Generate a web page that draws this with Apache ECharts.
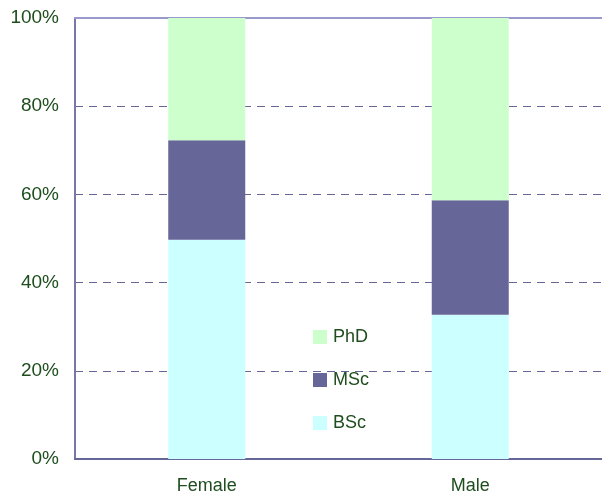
<!DOCTYPE html>
<html>
<head>
<meta charset="utf-8">
<script src="https://cdn.jsdelivr.net/npm/echarts@6/dist/echarts.min.js"></script>
<style>
    html, body { margin: 0; padding: 0; background: #ffffff; }
    #chart { width: 602px; height: 495px; }
</style>
</head>
<body>
<div id="chart"></div>
<script>
// categories and shares (percent of each group)
var groups = ['Female', 'Male'];
var bscShare = [49.7, 32.7];
var mscShare = [22.6, 26.0];
var phdShare = [27.7, 41.3];
var legendOrder = ['PhD', 'MSc', 'BSc'];

var textColor = '#1e4d1e';
var chart = echarts.init(document.getElementById('chart'));

function barSeries(name, data, color) {
    return {
        name: name,
        type: 'bar',
        stack: 'degree',
        barWidth: 77,
        itemStyle: { color: color },
        data: data
    };
}

chart.setOption({
    animation: false,
    textStyle: { fontFamily: 'Liberation Sans, Arial, sans-serif' },
    grid: { left: 75, right: 0, top: 18, bottom: 36 },
    legend: {
        data: legendOrder,
        orient: 'vertical',
        left: 308,
        top: 323,
        itemWidth: 14,
        itemHeight: 14,
        itemGap: 25,
        icon: 'rect',
        textStyle: { color: textColor, fontSize: 18, padding: [0, 0, 0, 1] }
    },
    xAxis: [
        {
            type: 'category',
            data: groups,
            axisLine: { lineStyle: { color: '#666699', width: 2 } },
            axisTick: { inside: true, length: 6, lineStyle: { color: '#666699' } },
            axisLabel: { color: textColor, fontSize: 18, margin: 18 }
        },
        {
            type: 'category',
            position: 'top',
            data: groups,
            axisLine: { lineStyle: { color: '#9999cc', width: 2 } },
            axisTick: { show: false },
            axisLabel: { show: false }
        }
    ],
    yAxis: {
        type: 'value',
        min: 0,
        max: 100,
        interval: 20,
        axisLine: { show: true, lineStyle: { color: '#7777aa', width: 2 } },
        axisTick: { show: false },
        axisLabel: { color: textColor, fontSize: 19, margin: 16, formatter: '{value}%' },
        splitLine: { lineStyle: { color: '#666699', type: [8, 6], width: 1 } }
    },
    series: [
        barSeries('BSc', bscShare, '#ccffff'),
        barSeries('MSc', mscShare, '#666699'),
        barSeries('PhD', phdShare, '#ccffcc')
    ]
});
</script>
</body>
</html>
